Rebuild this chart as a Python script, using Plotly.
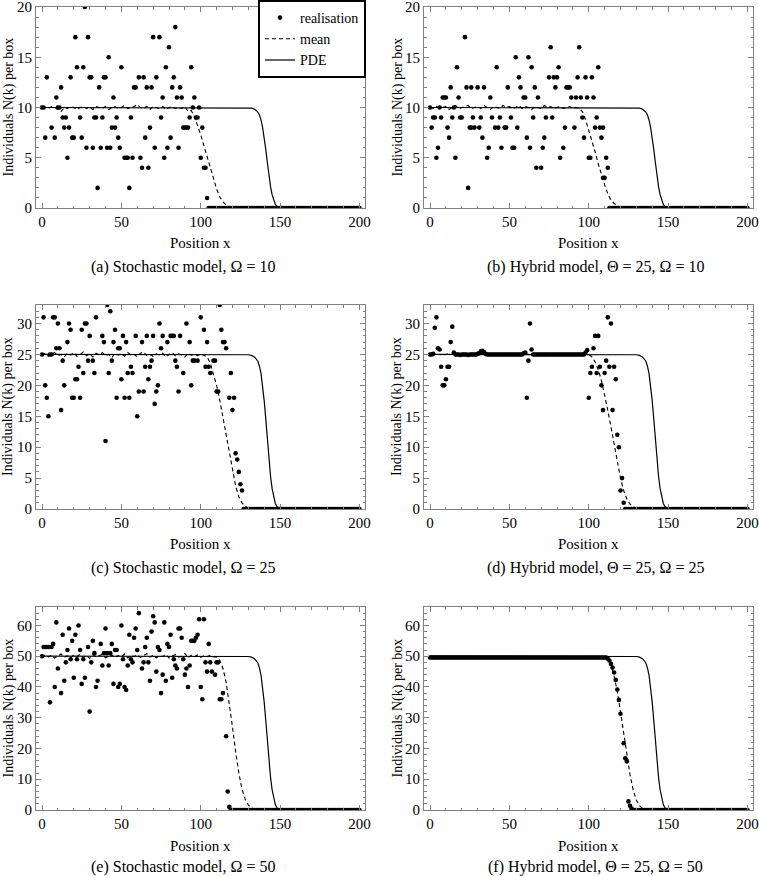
import plotly.graph_objects as go

# ---------------- data ----------------
X_TICKS = [0, 50, 100, 150, 200]

# PDE front (identical shape in every panel, level = Omega)
pde_x = [0, 126, 130, 132, 134, 136, 137, 138, 139, 140, 141, 142, 143, 144, 145, 146, 147, 148, 149, 150, 200]
pde_10 = [10, 10, 9.98, 9.94, 9.82, 9.55, 9.25, 8.75, 8.0, 7.0, 5.8, 4.5, 3.2, 2.1, 1.3, 0.7, 0.35, 0.15, 0.05, 0, 0]
pde_25 = [25, 25, 24.95, 24.85, 24.55, 23.9, 23.1, 21.9, 20.0, 17.5, 14.5, 11.25, 8.0, 5.25, 3.25, 1.75, 0.9, 0.4, 0.12, 0, 0]
pde_50 = [50, 50, 49.9, 49.7, 49.1, 47.8, 46.2, 43.8, 40.0, 35.0, 29.0, 22.5, 16.0, 10.5, 6.5, 3.5, 1.75, 0.75, 0.25, 0, 0]

# mean of many realisations: flat (noisy) part sampled every 2 boxes, then the front
mean_a_flat = [9.9, 10.0, 9.9, 10.1, 10.0, 9.8, 9.6, 10.0, 9.9, 10.1, 10.0, 9.8, 10.0, 10.1, 9.9, 10.0,
               9.8, 10.1, 10.0, 9.9, 10.1, 9.8, 10.0, 10.1, 9.9, 10.0, 10.2, 9.9, 10.0, 10.1, 10.3, 10.0,
               9.9, 10.1, 9.8, 10.1, 10.0, 9.9, 10.1, 9.8, 10.0, 10.1, 9.9, 10.0, 9.9, 10.1, 9.6]
mean_a_fx = [94, 96, 98, 100, 102, 104, 106, 108, 110, 112, 114, 116, 118, 120, 122, 124, 200]
mean_a_fy = [9.7, 9.1, 8.3, 7.3, 6.2, 5.1, 4.0, 2.9, 1.9, 1.1, 0.6, 0.3, 0.12, 0.04, 0.01, 0, 0]

mean_b_flat = [10.0, 9.9, 10.1, 9.9, 10.0, 10.1, 9.8, 10.0, 10.2, 9.9, 10.0, 10.1, 10.2, 9.9, 10.0, 10.1,
               9.9, 10.2, 10.0, 9.8, 10.1, 10.0, 9.9, 10.2, 10.0, 10.1, 9.9, 10.0, 10.2, 9.9, 10.1, 10.0,
               9.8, 10.1, 10.0, 9.9, 10.2, 10.0, 10.1, 9.9, 10.0, 10.1, 9.9, 10.0, 10.1, 9.9, 10.0, 9.9]
mean_b_fx = [96, 98, 100, 102, 104, 106, 108, 110, 112, 114, 116, 118, 120, 122, 124, 126, 200]
mean_b_fy = [9.6, 8.8, 7.8, 6.7, 5.6, 4.4, 3.3, 2.3, 1.4, 0.8, 0.45, 0.22, 0.1, 0.04, 0.01, 0, 0]

mean_c_flat = [24.8, 25.2, 24.7, 25.1, 25.3, 24.8, 25.0, 24.6, 25.2, 24.9, 25.3, 24.7, 25.0, 25.4, 24.8, 25.1,
               24.6, 25.2, 24.9, 25.3, 24.8, 25.0, 24.5, 25.2, 24.9, 25.1, 24.7, 25.3, 24.9, 25.0, 24.6, 25.2,
               25.4, 24.8, 25.0, 24.7, 25.1, 24.9, 25.2, 24.6, 25.0, 25.3, 24.8, 25.1, 24.9, 24.6, 25.2, 24.9,
               25.0, 24.8, 25.1, 24.9]
mean_c_fx = [104, 106, 108, 110, 112, 114, 116, 118, 120, 122, 124, 126, 128, 130, 132, 134, 200]
mean_c_fy = [24.6, 23.6, 22.0, 20.0, 17.6, 14.8, 11.8, 8.8, 6.0, 3.7, 2.0, 1.0, 0.45, 0.18, 0.06, 0, 0]

mean_d_flat = [25.0, 25.0, 25.1, 25.0, 24.9, 25.0, 25.1, 25.0, 25.0, 24.9, 25.0, 25.1, 25.0, 25.0, 24.9, 25.0,
               25.2, 25.1, 25.0, 25.0, 24.9, 25.0, 25.0, 25.1, 25.0, 25.0, 24.9, 25.0, 25.0, 25.1, 25.2, 25.0,
               25.0, 24.9, 25.0, 25.0, 25.1, 25.0, 24.9, 25.0, 25.0, 25.1, 25.0, 25.0, 24.9, 25.0, 25.0, 25.1,
               25.0, 25.1, 25.0]
mean_d_fx = [102, 104, 106, 108, 110, 112, 114, 116, 118, 120, 122, 124, 126, 128, 130, 132, 200]
mean_d_fy = [24.6, 23.8, 22.5, 20.8, 18.6, 16.0, 13.3, 10.4, 7.6, 5.0, 3.0, 1.6, 0.8, 0.35, 0.12, 0, 0]

mean_e_flat = [49.6, 50.5, 49.8, 50.3, 49.4, 50.2, 50.7, 49.7, 50.1, 49.5, 50.4, 49.9, 50.6, 49.6, 50.2, 49.3,
               50.5, 49.8, 50.1, 50.6, 49.5, 50.0, 50.4, 49.6, 50.3, 49.8, 50.7, 49.4, 50.2, 49.9, 50.5, 49.6,
               50.1, 50.8, 49.7, 50.3, 49.5, 50.2, 49.9, 50.6, 49.4, 50.1, 50.5, 49.7, 50.0, 50.9, 49.5, 50.3,
               49.8, 50.4, 49.6, 50.2, 49.9, 50.3, 49.8]
mean_e_fx = [110, 112, 114, 116, 118, 120, 122, 124, 126, 128, 130, 132, 134, 136, 200]
mean_e_fy = [49.7, 48.7, 46.0, 41.5, 35.0, 27.0, 19.0, 12.0, 6.8, 3.5, 1.6, 0.7, 0.25, 0, 0]

mean_f_flat = [49.7] * 56
mean_f_fx = [112, 114, 116, 118, 120, 122, 124, 126, 128, 130, 132, 134, 136, 200]
mean_f_fy = [49.0, 47.0, 43.5, 38.5, 32.0, 25.0, 18.0, 11.5, 6.5, 3.2, 1.4, 0.5, 0, 0]

# single realisation: value -> boxes holding that value (stochastic panels)
real_a = {20: [27], 18: [84], 17: [21, 29, 70, 74], 16: [80], 15: [42],
          14: [22, 26, 50, 78, 94], 13: [3, 18, 30, 31, 39, 40, 61, 64, 72, 83],
          12: [12, 36, 58, 59, 66, 69, 82, 87], 11: [9, 45, 76, 85, 88, 96],
          10: [0, 1, 10, 11, 95, 99],
          9: [13, 15, 24, 33, 34, 38, 47, 56, 75, 93, 97, 98],
          8: [6, 14, 17, 44, 46, 68, 89, 90, 91, 92, 101],
          7: [2, 8, 19, 20, 25, 48, 65, 81], 6: [28, 32, 37, 41, 43, 49, 71, 79, 86],
          5: [16, 52, 53, 54, 57, 62, 77, 100], 4: [63, 67, 102, 103], 2: [35, 55], 1: [104]}
zero_a = 105

real_b = {17: [22], 16: [76, 94], 15: [54, 62], 14: [17, 42, 64, 81, 106],
          13: [56, 75, 78, 80, 93, 98, 102],
          12: [13, 23, 26, 30, 34, 49, 57, 66, 79, 86, 87, 88],
          11: [8, 9, 10, 18, 38, 59, 60, 68, 89, 92, 95, 99, 103],
          10: [0, 6, 15],
          9: [2, 3, 7, 14, 19, 20, 27, 32, 39, 44, 51, 65, 73, 77, 96, 105],
          8: [1, 11, 25, 26, 28, 31, 41, 43, 47, 48, 55, 85, 91, 104, 107, 109],
          7: [12, 33, 61, 72, 97, 108], 6: [5, 37, 45, 52, 53, 63, 71, 84],
          5: [4, 16, 36, 82, 100, 101, 111], 4: [67, 70, 112], 3: [109, 110], 2: [24]}
zero_b = 113

real_c = {33: [41, 112], 32: [43], 31: [1, 7, 8, 34, 100], 30: [10, 17, 27, 28, 74, 91],
          29: [18, 25, 46, 102, 113],
          28: [30, 38, 51, 59, 66, 70, 76, 81, 82, 83, 87],
          27: [16, 39, 45, 53, 63, 79, 93, 104, 114, 115], 26: [9, 11, 48, 49, 75, 116],
          25: [0, 5, 6],
          24: [13, 29, 32, 44, 69, 84, 95, 96, 98, 108, 109],
          23: [23, 56, 65, 68, 85, 103, 105], 22: [26, 33, 42, 54, 57, 89, 106, 119],
          21: [21, 22, 50, 67], 20: [2, 14, 73, 94], 19: [61, 64, 72, 86, 110, 111],
          18: [3, 19, 20, 24, 47, 52, 55, 118, 121], 17: [71], 16: [12, 120], 15: [4, 60],
          11: [40], 9: [122], 8: [123], 6: [124], 4: [125], 3: [126]}
zero_c = 127

real_e = {64: [61], 63: [70], 62: [99, 102], 61: [9, 71, 77], 60: [23, 50],
          59: [17, 40, 59, 86, 87], 58: [69], 57: [13, 21, 55, 81, 98], 56: [58, 66, 88, 97],
          55: [19, 32, 94, 95, 96], 54: [7, 37, 44, 79, 105],
          53: [1, 2, 3, 4, 6, 29, 65, 73, 80], 52: [16, 24, 46, 47, 60, 74],
          51: [33, 39, 41, 43], 50: [0], 49: [18, 22, 26, 51, 56, 83, 89],
          48: [15, 31, 57, 64, 67, 103, 106, 110, 111], 47: [38, 42, 54, 84, 93],
          46: [10, 63, 85, 91], 45: [72, 104, 107], 44: [76, 90, 109], 43: [20, 27, 82],
          42: [14, 35, 68, 78], 41: [25, 45, 49], 40: [8, 34, 48, 52, 92, 100], 39: [53],
          38: [12, 75, 114], 36: [101, 112, 113], 35: [5], 32: [30], 24: [116], 6: [117], 1: [118]}
zero_e = 119

# hybrid panels: box index and value (deterministic region gives non-integer values)
d_k = list(range(0, 123))
d_n = ([25, 25, 25.1, 29.3, 31, 26, 25.8, 23, 20, 20, 21, 23, 23, 27, 29.5, 25.3]
       + [25, 25, 25, 24.9, 25, 25, 25, 25, 24.9, 25, 25, 25, 25, 25, 25.1]
       + [25.2, 25.5, 25.6, 25.4, 25.1]
       + [25] * 23
       + [25.2, 25.3, 18, 24, 30, 25.8]
       + [25] * 33
       + [25.3, 25.7, 18, 22, 23, 26, 28, 22, 28, 23, 20, 16, 22, 24, 31, 23, 30, 16, 23, 21,
          12, 10, 3, 5, 1])
zero_d = 123

f_k = list(range(0, 112)) + [112, 113, 114, 115, 116, 117, 118, 119, 120, 122, 123, 124, 125, 126, 127]
f_n = [49.6] * 112 + [49.2, 48.6, 47.5, 46.3, 44.7, 42.3, 39.2, 35.8, 31.3, 21.7, 16.8, 15.8, 2.8, 1.4, 0.5]
zero_f = 128

captions = ["(a) Stochastic model, \u03a9 = 10",
            "(b) Hybrid model, \u0398 = 25, \u03a9 = 10",
            "(c) Stochastic model, \u03a9 = 25",
            "(d) Hybrid model, \u0398 = 25, \u03a9 = 25",
            "(e) Stochastic model, \u03a9 = 50",
            "(f) Hybrid model, \u0398 = 25, \u03a9 = 50"]


# ---------------- helpers ----------------
def rows_to_xy(rows, zero_from):
    xs, ys = [], []
    for v, ks in rows.items():
        for k in ks:
            xs.append(k)
            ys.append(v)
    for k in range(zero_from, 201):
        xs.append(k)
        ys.append(0)
    return xs, ys


def with_zero(ks, ns, zero_from):
    ks = list(ks) + list(range(zero_from, 201))
    ns = list(ns) + [0] * (201 - zero_from)
    return ks, ns


def mean_xy(flat, fx, fy):
    xs = list(range(0, 2 * len(flat), 2)) + fx
    return xs, list(flat) + fy


panels = [
    dict(real=rows_to_xy(real_a, zero_a), mean=mean_xy(mean_a_flat, mean_a_fx, mean_a_fy), pde=pde_10,
         yr=[0, 20], ydt=5, ymin=1),
    dict(real=rows_to_xy(real_b, zero_b), mean=mean_xy(mean_b_flat, mean_b_fx, mean_b_fy), pde=pde_10,
         yr=[0, 20], ydt=5, ymin=1),
    dict(real=rows_to_xy(real_c, zero_c), mean=mean_xy(mean_c_flat, mean_c_fx, mean_c_fy), pde=pde_25,
         yr=[0, 33], ydt=5, ymin=1),
    dict(real=with_zero(d_k, d_n, zero_d), mean=mean_xy(mean_d_flat, mean_d_fx, mean_d_fy), pde=pde_25,
         yr=[0, 33], ydt=5, ymin=1),
    dict(real=rows_to_xy(real_e, zero_e), mean=mean_xy(mean_e_flat, mean_e_fx, mean_e_fy), pde=pde_50,
         yr=[0, 66], ydt=10, ymin=2),
    dict(real=with_zero(f_k, f_n, zero_f), mean=mean_xy(mean_f_flat, mean_f_fx, mean_f_fy), pde=pde_50,
         yr=[0, 66], ydt=10, ymin=2),
]

# ---------------- layout geometry (pixels of the 759x876 page) ----------------
W, H = 759, 876
col_px = [(36, 365), (424, 753)]
row_px = [(7, 208), (305, 509), (607, 810)]
xtitle_px = [243, 544, 846]
cap_px = [267, 568, 867]
cap_x = [183, 595]
ytitle_x = [8, 397]

FONT = "Liberation Serif"
FRAME = "#808080"

fig = go.Figure()
layout = dict(width=W, height=H, margin=dict(l=0, r=0, t=0, b=0, autoexpand=False),
              plot_bgcolor="white", paper_bgcolor="white", showlegend=True)
annotations = []

for i, p in enumerate(panels):
    r, c = divmod(i, 2)
    n = i + 1
    xa = "x" if n == 1 else f"x{n}"
    ya = "y" if n == 1 else f"y{n}"
    x0, x1 = col_px[c]
    y0, y1 = row_px[r]
    layout[f"xaxis{'' if n == 1 else n}"] = dict(
        domain=[x0 / W, x1 / W], anchor=ya, range=[-3.8, 203.5],
        tickvals=X_TICKS, ticks="inside", ticklen=5, tickcolor=FRAME, tickwidth=1,
        showline=True, linecolor=FRAME, linewidth=1, mirror="allticks",
        showgrid=False, zeroline=False, ticklabeloverflow="allow",
        tickfont=dict(family=FONT, size=15, color="black"),
        minor=dict(ticks="inside", ticklen=2.5, tick0=0, dtick=10, tickcolor=FRAME, showgrid=False))
    layout[f"yaxis{'' if n == 1 else n}"] = dict(
        domain=[1 - y1 / H, 1 - y0 / H], anchor=xa, range=p["yr"],
        tick0=0, dtick=p["ydt"], ticks="inside", ticklen=5, tickcolor=FRAME, tickwidth=1,
        showline=True, linecolor=FRAME, linewidth=1, mirror="allticks",
        showgrid=False, zeroline=False, ticklabeloverflow="allow",
        tickfont=dict(family=FONT, size=15, color="black"),
        minor=dict(ticks="inside", ticklen=2.5, tick0=0, dtick=p["ymin"], tickcolor=FRAME, showgrid=False))

    rx, ry = p["real"]
    mx, my = p["mean"]
    first = (i == 0)
    fig.add_trace(go.Scatter(x=rx, y=ry, mode="markers", name="realisation", showlegend=first,
                             marker=dict(color="black", size=4.6), xaxis=xa, yaxis=ya))
    fig.add_trace(go.Scatter(x=mx, y=my, mode="lines", name="mean", showlegend=first,
                             line=dict(color="black", width=1.1, dash="4px,3px"), xaxis=xa, yaxis=ya))
    fig.add_trace(go.Scatter(x=pde_x, y=p["pde"], mode="lines", name="PDE", showlegend=first,
                             line=dict(color="black", width=1.2), xaxis=xa, yaxis=ya))

    annotations.append(dict(text="Position x", xref="paper", yref="paper",
                            x=(x0 + x1) / 2 / W, y=1 - xtitle_px[r] / H, showarrow=False,
                            xanchor="center", yanchor="middle",
                            font=dict(family=FONT, size=15, color="black")))
    annotations.append(dict(text="Individuals N(k) per box", xref="paper", yref="paper",
                            x=ytitle_x[c] / W, y=1 - (y0 + y1) / 2 / H, showarrow=False, textangle=-90,
                            xanchor="center", yanchor="middle",
                            font=dict(family=FONT, size=14, color="black")))
    annotations.append(dict(text=captions[i], xref="paper", yref="paper",
                            x=cap_x[c] / W, y=1 - cap_px[r] / H, showarrow=False,
                            xanchor="center", yanchor="middle",
                            font=dict(family=FONT, size=16, color="black")))

layout["annotations"] = annotations
layout["legend"] = dict(x=366 / W, y=1.0, xanchor="right", yanchor="top",
                        bgcolor="white", bordercolor="black", borderwidth=2,
                        font=dict(family=FONT, size=14, color="black"),
                        itemwidth=30, tracegroupgap=0)
fig.update_layout(**layout)
fig.write_html("out.html", config={"displayModeBar": False},
               post_script="document.body.style.margin='0px';document.body.style.overflow='hidden';")
